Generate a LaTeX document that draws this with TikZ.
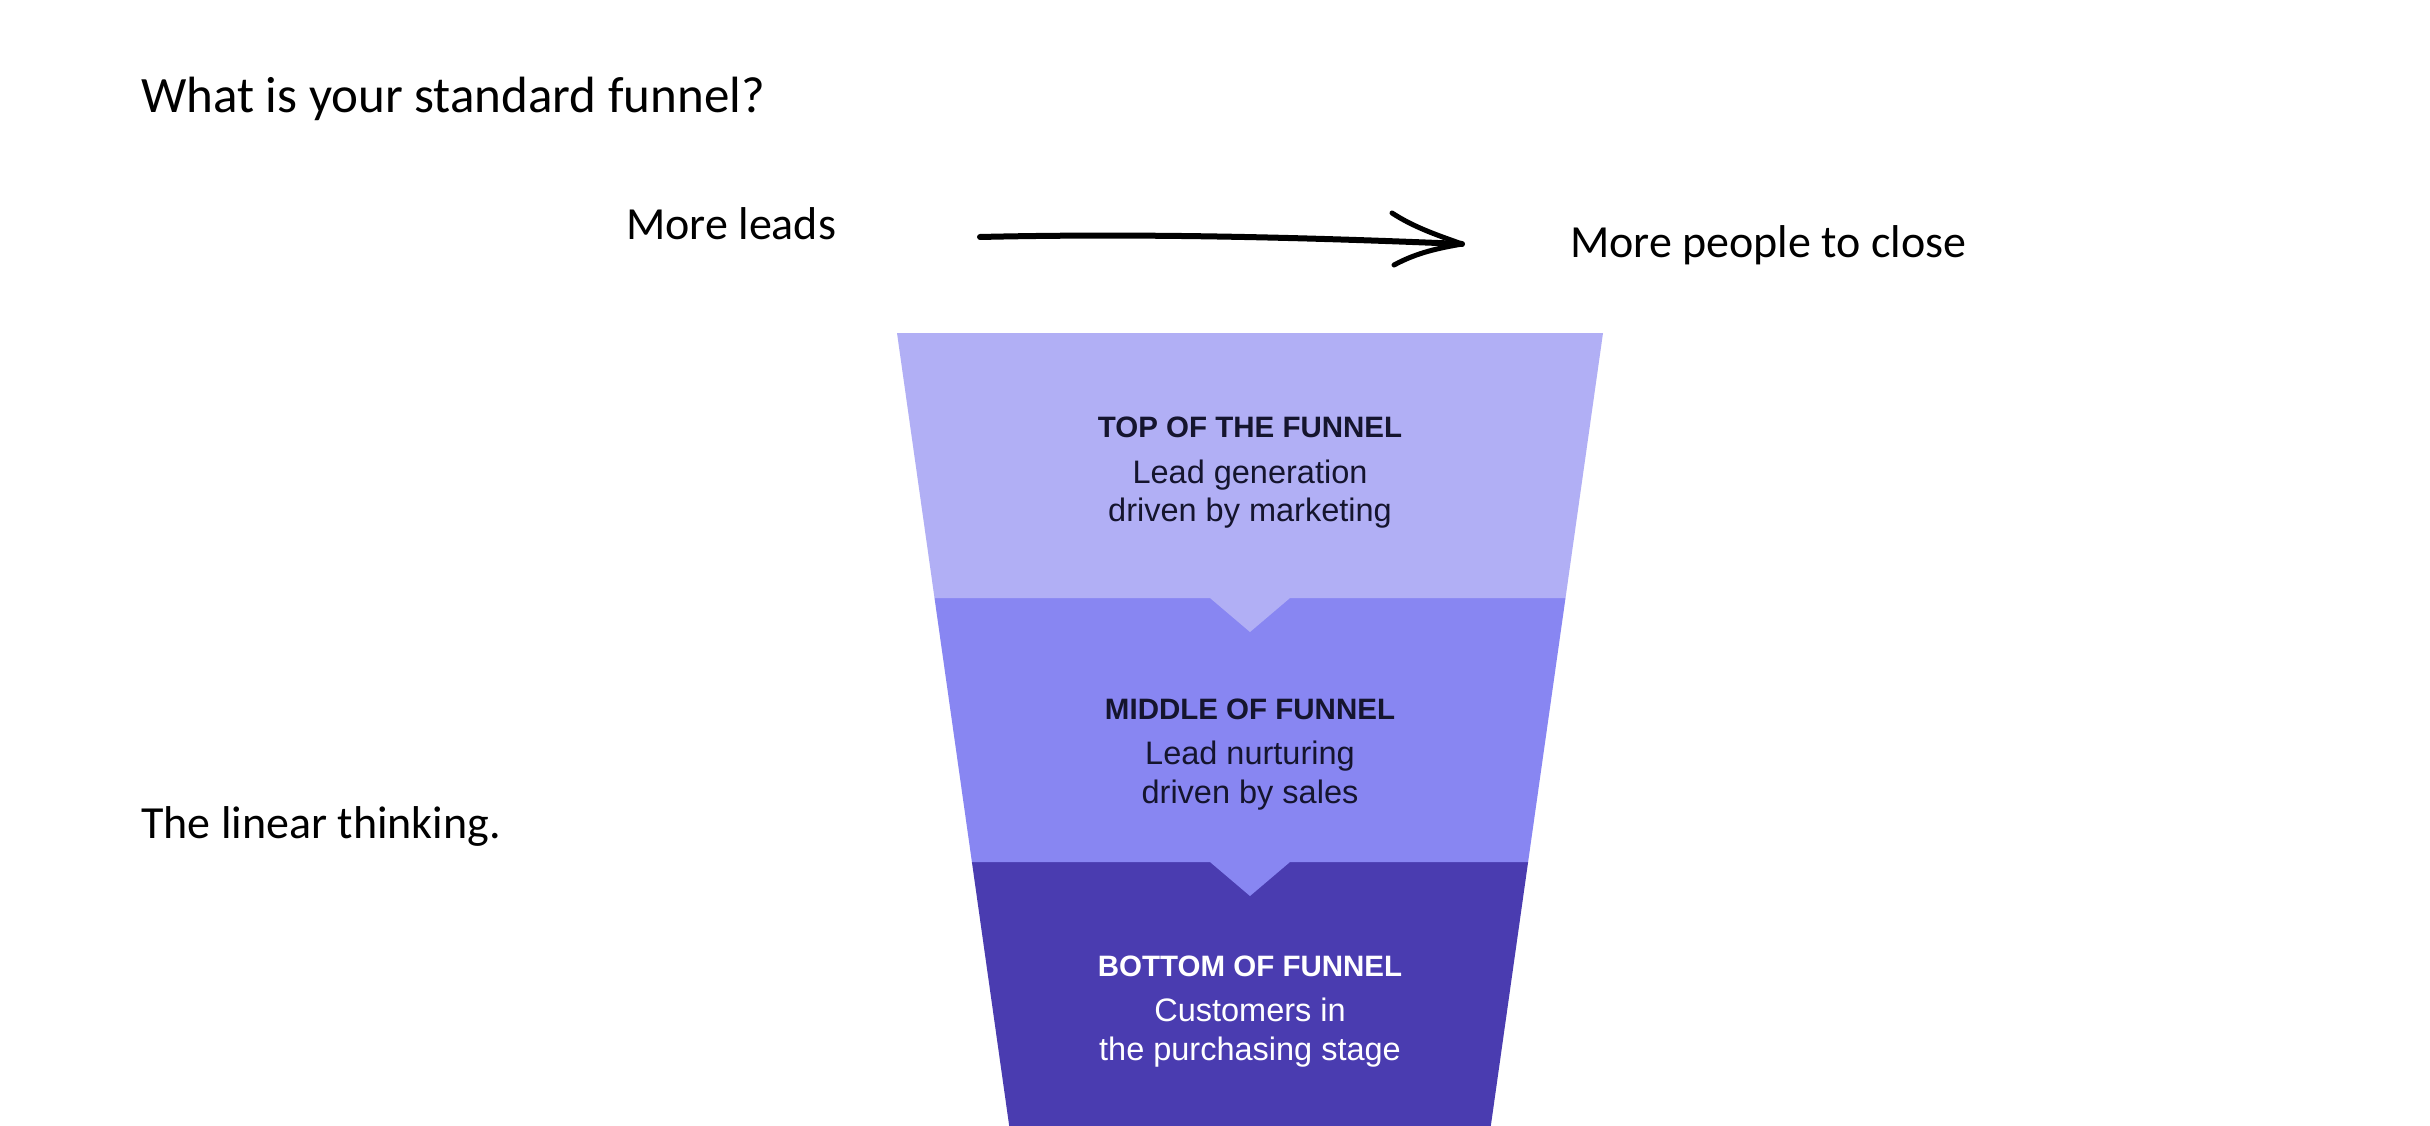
\documentclass[tikz,border=0pt]{standalone}
\usepackage{fontspec}
\setmainfont{Carlito}
\newfontfamily\funfont{Liberation Sans}
\definecolor{topc}{HTML}{B1AFF5}
\definecolor{midc}{HTML}{8886F2}
\definecolor{botc}{HTML}{4A3CB0}
\definecolor{navy}{HTML}{15152E}
\begin{document}
\begin{tikzpicture}[x=1pt,y=-1pt,
  slide/.style={font=\fontsize{46}{55}\selectfont, inner sep=0pt, anchor=base west},
  head/.style={font=\funfont\bfseries\fontsize{29.5}{35}\selectfont, text=navy, inner sep=0pt, anchor=base},
  sub/.style={font=\funfont\fontsize{32.5}{39}\selectfont, text=navy, inner sep=0pt, anchor=base},
  brush/.style={line width=6pt, line cap=round, line join=round}]
\useasboundingbox[fill=white] (0,0) rectangle (2430,1126);

% titles
\node[slide, font=\fontsize{51}{61}\selectfont] (title) at (141,113) {What is your standard funnel?};
\node[slide] (lin) at (141,838) {The linear thinking.};
\node[slide] (more) at (626,239) {More leads};
\node[slide] (close) at (1570,257) {More people to close};

% hand drawn arrow
\coordinate (as) at (980,237);
\coordinate (ae) at (1462,244);
\draw[brush] (as) .. controls (1150,233) and (1320,238) .. (ae);
\draw[brush, line width=5pt] (1392,213) .. controls (1415,228) and (1440,236) .. (ae);
\draw[brush, line width=5pt] (1394,265) .. controls (1418,252) and (1440,248) .. (ae);

% funnel sections
\fill[botc] (971.9,862) -- (1528.1,862) -- (1490.8,1126) -- (1009.2,1126) -- cycle;
\fill[midc] (934.5,598) -- (1565.5,598) -- (1528.1,862) -- (1290,862) -- (1250,896) -- (1210,862) -- (971.9,862) -- cycle;
\fill[topc] (897,333) -- (1603,333) -- (1565.5,598) -- (1290,598) -- (1250,632) -- (1210,598) -- (934.5,598) -- cycle;

% funnel texts
\node[head] (h1) at (1250,437) {TOP OF THE FUNNEL};
\node[sub] (s1a) at (1250,483) {Lead generation};
\node[sub] (s1b) at (1250,521) {driven by marketing};

\node[head] (h2) at (1250,719) {MIDDLE OF FUNNEL};
\node[sub] (s2a) at (1250,764) {Lead nurturing};
\node[sub] (s2b) at (1250,803) {driven by sales};

\node[head, text=white] (h3) at (1250,976) {BOTTOM OF FUNNEL};
\node[sub, text=white] (s3a) at (1250,1021) {Customers in};
\node[sub, text=white] (s3b) at (1250,1060) {the purchasing stage};
\end{tikzpicture}
\end{document}
